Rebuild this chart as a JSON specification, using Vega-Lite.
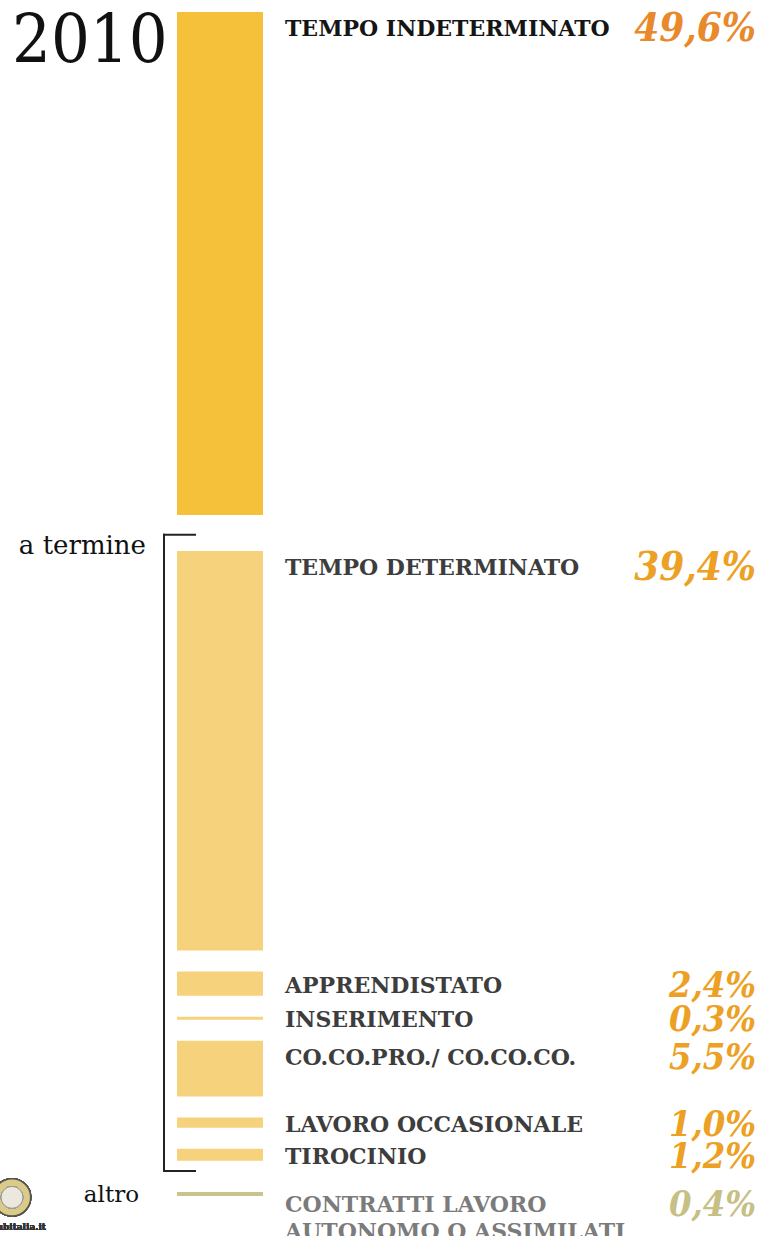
{
  "$schema": "https://vega.github.io/schema/vega-lite/v6.json",
  "width": 761,
  "height": 1236,
  "autosize": "none",
  "padding": 0,
  "background": "#ffffff",
  "config": {"view": {"stroke": null}},
  "data": {
    "values": [
      {"ordine": 1, "voce": "TEMPO INDETERMINATO", "valore": 49.6, "gruppo": "indeterminato"},
      {"ordine": 2, "voce": "TEMPO DETERMINATO", "valore": 39.4, "gruppo": "a termine"},
      {"ordine": 3, "voce": "APPRENDISTATO", "valore": 2.4, "gruppo": "a termine"},
      {"ordine": 4, "voce": "INSERIMENTO", "valore": 0.3, "gruppo": "a termine"},
      {"ordine": 5, "voce": "CO.CO.PRO./ CO.CO.CO.", "valore": 5.5, "gruppo": "a termine"},
      {"ordine": 6, "voce": "LAVORO OCCASIONALE", "valore": 1.0, "gruppo": "a termine"},
      {"ordine": 7, "voce": "TIROCINIO", "valore": 1.2, "gruppo": "a termine"},
      {"ordine": 8, "voce": "CONTRATTI LAVORO\nAUTONOMO O ASSIMILATI", "valore": 0.4, "gruppo": "altro"}
    ]
  },
  "transform": [
    {"window": [{"op": "sum", "field": "valore", "as": "cum"}, {"op": "row_number", "as": "n"}], "sort": [{"field": "ordine", "order": "ascending"}], "frame": [null, 0]},
    {"calculate": "(datum.n - 1) * 2.07 + (datum.gruppo != 'indeterminato' ? 1.48 : 0) + (datum.gruppo == 'altro' ? 0.99 : 0)", "as": "spazio"},
    {"calculate": "datum.cum - datum.valore + datum.spazio", "as": "y0"},
    {"calculate": "datum.cum + datum.spazio", "as": "y1"},
    {"calculate": "datum.gruppo == 'altro' ? datum.y0 + 1.1 : datum.y0 + min(datum.valore / 2, 1.5)", "as": "ancora"},
    {"calculate": "replace(format(datum.valore, '.1f'), '.', ',') + '%'", "as": "pct"}
  ],
  "layer": [
    {
      "mark": {"type": "bar"},
      "encoding": {
        "x": {"datum": 177, "type": "quantitative", "scale": {"domain": [0, 761], "nice": false, "zero": false}, "axis": null},
        "x2": {"datum": 263},
        "y": {"field": "y0", "type": "quantitative", "scale": {"domain": [-1.183, 120.71], "reverse": true, "nice": false, "zero": false}, "axis": null},
        "y2": {"field": "y1"},
        "color": {"field": "gruppo", "type": "nominal", "scale": {"domain": ["indeterminato", "a termine", "altro"], "range": ["#F5C13B", "#F7D27C", "#C9C38E"]}, "legend": null}
      }
    },
    {
      "mark": {"type": "text", "align": "left", "baseline": "middle", "dy": 2, "font": "DejaVu Serif", "fontWeight": "bold", "fontSize": 22, "lineBreak": "\n", "lineHeight": 27},
      "encoding": {
        "x": {"datum": 285, "type": "quantitative"},
        "y": {"field": "ancora", "type": "quantitative"},
        "text": {"field": "voce"},
        "color": {"condition": [{"test": "datum.gruppo == 'indeterminato'", "value": "#151515"}, {"test": "datum.gruppo == 'altro'", "value": "#7b7b7b"}], "value": "#3d3d3d"}
      }
    },
    {
      "mark": {"type": "text", "align": "right", "baseline": "middle", "dy": 2, "font": "DejaVu Serif Condensed, DejaVu Serif", "fontWeight": "bold", "fontStyle": "italic"},
      "encoding": {
        "x": {"datum": 756, "type": "quantitative"},
        "y": {"field": "ancora", "type": "quantitative"},
        "text": {"field": "pct"},
        "size": {"condition": {"test": "datum.valore > 10", "value": 40}, "value": 36},
        "color": {"condition": [{"test": "datum.gruppo == 'indeterminato'", "value": "#E8892B"}, {"test": "datum.gruppo == 'altro'", "value": "#C7BF85"}], "value": "#ECA124"}
      }
    },
    {
      "transform": [
        {"filter": "datum.gruppo == 'a termine'"},
        {"aggregate": [{"op": "min", "field": "y0", "as": "inizio"}, {"op": "max", "field": "y1", "as": "fine"}]},
        {"calculate": "datum.inizio - 1.6", "as": "sopra"},
        {"calculate": "datum.fine + 1", "as": "sotto"}
      ],
      "layer": [
        {
          "mark": {"type": "rule", "color": "#222222", "strokeWidth": 2, "strokeCap": "square"},
          "encoding": {
            "x": {"datum": 164, "type": "quantitative"},
            "y": {"field": "sopra", "type": "quantitative"},
            "y2": {"field": "sotto"}
          }
        },
        {
          "mark": {"type": "rule", "color": "#222222", "strokeWidth": 2, "strokeCap": "square"},
          "encoding": {
            "x": {"datum": 164, "type": "quantitative"},
            "x2": {"datum": 195},
            "y": {"field": "sopra", "type": "quantitative"}
          }
        },
        {
          "mark": {"type": "rule", "color": "#222222", "strokeWidth": 2, "strokeCap": "square"},
          "encoding": {
            "x": {"datum": 164, "type": "quantitative"},
            "x2": {"datum": 195},
            "y": {"field": "sotto", "type": "quantitative"}
          }
        },
        {
          "mark": {"type": "text", "align": "right", "baseline": "middle", "dy": 11, "font": "DejaVu Serif", "fontSize": 26, "color": "#111111"},
          "encoding": {
            "x": {"datum": 146, "type": "quantitative"},
            "y": {"field": "sopra", "type": "quantitative"},
            "text": {"value": "a termine"}
          }
        }
      ]
    },
    {
      "transform": [{"filter": "datum.gruppo == 'altro'"}],
      "mark": {"type": "text", "align": "right", "baseline": "middle", "dy": 3, "font": "DejaVu Serif", "fontSize": 23, "color": "#111111"},
      "encoding": {
        "x": {"datum": 139, "type": "quantitative"},
        "y": {"field": "y0", "type": "quantitative"},
        "text": {"value": "altro"}
      }
    },
    {
      "transform": [{"filter": "datum.n == 1"}],
      "mark": {"type": "text", "align": "left", "baseline": "top", "dy": -4, "font": "DejaVu Serif Condensed, DejaVu Serif", "fontSize": 68, "color": "#111111"},
      "encoding": {
        "x": {"datum": 12, "type": "quantitative"},
        "y": {"field": "y0", "type": "quantitative"},
        "text": {"value": "2010"}
      }
    },
    {
      "mark": {"type": "point", "filled": true, "fill": "#DCCB86", "stroke": "#555555", "strokeWidth": 1.5, "opacity": 1},
      "encoding": {
        "x": {"datum": 12, "type": "quantitative"},
        "y": {"datum": 116.9, "type": "quantitative"},
        "size": {"value": 1400}
      }
    },
    {
      "mark": {"type": "point", "filled": true, "fill": "#ECE8DE", "stroke": "#999999", "strokeWidth": 1, "opacity": 1},
      "encoding": {
        "x": {"datum": 12, "type": "quantitative"},
        "y": {"datum": 116.9, "type": "quantitative"},
        "size": {"value": 480}
      }
    },
    {
      "mark": {"type": "text", "align": "right", "baseline": "middle", "font": "DejaVu Serif Condensed, DejaVu Serif", "fontWeight": "bold", "fontSize": 10, "color": "#333333"},
      "encoding": {
        "x": {"datum": 46, "type": "quantitative"},
        "y": {"datum": 119.8, "type": "quantitative"},
        "text": {"value": "hubitalia.it"}
      }
    }
  ]
}
